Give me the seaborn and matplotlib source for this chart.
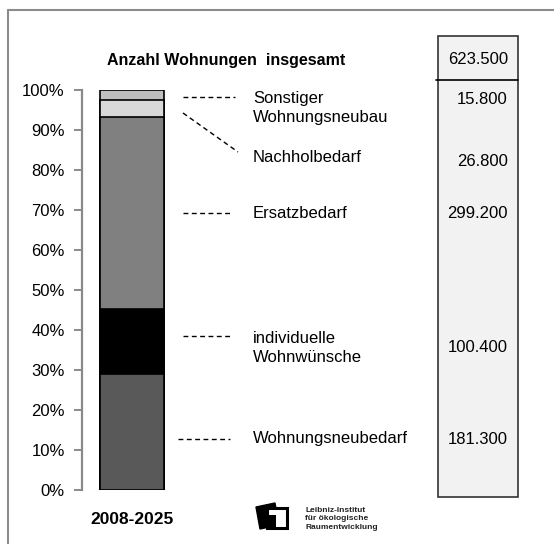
import numpy as np
import pandas as pd
import matplotlib
matplotlib.use("Agg")
import matplotlib.pyplot as plt
from matplotlib.patches import Rectangle, Polygon
from matplotlib.lines import Line2D
import seaborn as sns

# ----------------------------------------
# Data (thousand dwellings, bottom to top)
# ----------------------------------------
categories = ["Wohnungsneubedarf", "individuelle\nWohnwünsche", "Ersatzbedarf",
              "Nachholbedarf", "Sonstiger\nWohnungsneubau"]
values = [181.3, 100.4, 299.2, 26.8, 15.8]
value_labels = ["181.300", "100.400", "299.200", "26.800", "15.800"]
total_label = "623.500"
period = "2008-2025"
colors = ["#595959", "#000000", "#808080", "#d9d9d9", "#bfbfbf"]

shares = np.array(values) / sum(values) * 100
cum = np.cumsum(shares)

W, H = 554, 544
sns.set_theme(style="white")
plt.rcParams["font.family"] = ["Liberation Sans", "DejaVu Sans"]
plt.rcParams["text.color"] = "black"

fig = plt.figure(figsize=(W / 100, H / 100), dpi=100)


def fx(px):
    return px / W


def fy(py):
    return 1 - py / H


# axes: x 82..182 px, y 90..490 px
ax = fig.add_axes([fx(82), fy(490), fx(182) - fx(82), fy(90) - fy(490)])

# stacked bar: draw cumulative heights from top down
for i in range(len(values) - 1, -1, -1):
    df = pd.DataFrame({"period": [period], "share": [cum[i]]})
    sns.barplot(data=df, x="period", y="share", color=colors[i], width=0.64,
                edgecolor="black", linewidth=1.2, saturation=1, ax=ax)

ax.set_xlim(-0.5, 0.5)
ax.set_ylim(0, 100)
ax.set_yticks(np.arange(0, 101, 10))
ax.set_yticklabels([f"{t}%" for t in range(0, 101, 10)], fontsize=12, color="black")
ax.set_xticks([])
ax.set_xlabel("")
ax.set_ylabel("")
for s in ["top", "right", "bottom"]:
    ax.spines[s].set_visible(False)
ax.spines["left"].set_color("#8a8a8a")
ax.spines["left"].set_linewidth(1.6)
ax.tick_params(axis="y", left=True, length=6, width=1.4, color="#8a8a8a", pad=6.5)

fig.text(fx(132), fy(520), period, ha="center", va="center",
         fontsize=12.5, fontweight="bold")
fig.text(fx(107), fy(60), "Anzahl Wohnungen  insgesamt", ha="left", va="center",
         fontsize=11.5, fontweight="bold")

# outer frame (top and left)
fig.add_artist(Line2D([fx(8), 1], [fy(10), fy(10)], color="#8c8c8c", lw=1.5))
fig.add_artist(Line2D([fx(8), fx(8)], [fy(10), 0], color="#8c8c8c", lw=1.5))

# right value box
fig.add_artist(Rectangle((fx(438), fy(497)), fx(518) - fx(438), fy(36) - fy(497),
                         transform=fig.transFigure, facecolor="#f2f2f2",
                         edgecolor="#333333", lw=1.2))
fig.add_artist(Line2D([fx(436), fx(518)], [fy(80), fy(80)], color="black", lw=1.2))
fig.text(fx(478), fy(59), total_label, ha="center", va="center", fontsize=12)

# labels, values and leader lines
label_y = [439, 348, 213, 157, 108]
value_y = [439, 348, 213, 162, 100]
leaders = [((178, 439), (230, 439)), ((183, 336), (230, 336)),
           ((183, 213), (232, 213)), ((183, 113), (238, 152)),
           ((183, 97), (235, 97))]
for i, cat in enumerate(categories):
    fig.text(fx(253), fy(label_y[i]), cat, ha="left", va="center",
             fontsize=12, linespacing=1.3)
    fig.text(fx(508), fy(value_y[i]), value_labels[i], ha="right", va="center",
             fontsize=12)
    (x0, y0), (x1, y1) = leaders[i]
    fig.add_artist(Line2D([fx(x0), fx(x1)], [fy(y0), fy(y1)], color="black",
                          lw=1.0, linestyle=(0, (3.5, 2.5))))

# logo
fig.add_artist(Polygon([(fx(256), fy(507)), (fx(275), fy(503)), (fx(279), fy(525)),
                        (fx(260), fy(529))], closed=True, transform=fig.transFigure,
                       facecolor="black", edgecolor="black"))
fig.add_artist(Rectangle((fx(267), fy(528)), fx(287) - fx(267), fy(508) - fy(528),
                         transform=fig.transFigure, facecolor="white",
                         edgecolor="black", lw=2.2))
fig.add_artist(Rectangle((fx(267), fy(528)), fx(276) - fx(267), fy(515) - fy(528),
                         transform=fig.transFigure, facecolor="black",
                         edgecolor="none"))
fig.text(fx(305), fy(519), "Leibniz-Institut\nfür ökologische\nRaumentwicklung",
         ha="left", va="center", fontsize=6, fontweight="bold", linespacing=1.25,
         color="#222222")

fig.savefig("out.png", dpi=100)
